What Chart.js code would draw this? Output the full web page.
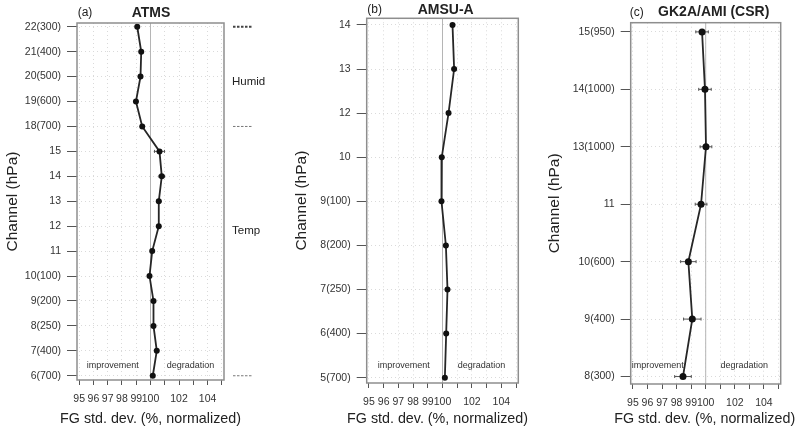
<!DOCTYPE html>
<html>
<head>
<meta charset="utf-8">
<script src="https://cdn.jsdelivr.net/npm/chart.js@4"></script>
<style>
  body { margin: 0; background: #fff; }
  #wrap { position: relative; width: 800px; height: 434px; }
  .panel { position: absolute; top: 0; height: 434px; }
</style>
</head>
<body>
<div id="wrap">
  <div class="panel" style="left:0;width:270px"><canvas id="atmsChart"></canvas></div>
  <div class="panel" style="left:270px;width:270px"><canvas id="amsuChart"></canvas></div>
  <div class="panel" style="left:540px;width:260px"><canvas id="gk2aChart"></canvas></div>
</div>
<script>
// x axis ticks (every 1 %, some labels left out like the original)
const xTicks = [95, 96, 97, 98, 99, 100, 101, 102, 103, 104, 105];
const xTickLabels = ['95', '96', '97', '98', '99', '100', '', '102', '', '104', ''];
const xTitle = 'FG std. dev. (%, normalized)';

// (a) ATMS
const atmsChannels = ['22(300)', '21(400)', '20(500)', '19(600)', '18(700)', '15', '14', '13', '12', '11', '10(100)', '9(200)', '8(250)', '7(400)', '6(700)'];
const atmsValues = [99.07, 99.35, 99.3, 98.98, 99.42, 100.63, 100.79, 100.58, 100.58, 100.12, 99.93, 100.21, 100.21, 100.44, 100.16];
const atmsErr = [0.1, 0.1, 0.1, 0.1, 0.12, 0.35, 0.2, 0.15, 0.1, 0.1, 0.08, 0.08, 0.08, 0.08, 0.08];
const atmsSideLabels = ['Humid', 'Temp'];
const atmsSideLabelRows = [2.2, 8.2];
const atmsSeparatorRows = [0, 4, 14];

// (b) AMSU-A
const amsuChannels = ['14', '13', '12', '10', '9(100)', '8(200)', '7(250)', '6(400)', '5(700)'];
const amsuValues = [100.68, 100.79, 100.41, 99.95, 99.93, 100.23, 100.34, 100.25, 100.16];
const amsuErr = [0.12, 0.12, 0.06, 0.05, 0.05, 0.05, 0.05, 0.05, 0.05];

// (c) GK2A/AMI (CSR)
const gk2aChannels = ['15(950)', '14(1000)', '13(1000)', '11', '10(600)', '9(400)', '8(300)'];
const gk2aValues = [99.75, 99.95, 100.02, 99.68, 98.81, 99.08, 98.44];
const gk2aErr = [0.43, 0.43, 0.4, 0.4, 0.53, 0.6, 0.57];

const FONT = '"Liberation Sans", Arial, sans-serif';

// reference line, error bars, box, titles and notes
const panelDecor = {
  id: 'panelDecor',
  beforeDatasetsDraw(chart, args, opts) {
    const { ctx, chartArea: a, scales: { x, y } } = chart;
    ctx.save();
    ctx.strokeStyle = '#b5b5b5';
    ctx.lineWidth = 1;
    const x100 = x.getPixelForValue(100);
    ctx.beginPath();
    ctx.moveTo(x100, a.top);
    ctx.lineTo(x100, a.bottom);
    ctx.stroke();

    ctx.strokeStyle = '#555';
    ctx.lineWidth = 1;
    opts.values.forEach((v, i) => {
      const e = opts.err[i];
      const py = y.getPixelForValue(i);
      const x0 = x.getPixelForValue(v - e);
      const x1 = x.getPixelForValue(v + e);
      ctx.beginPath();
      ctx.moveTo(x0, py); ctx.lineTo(x1, py);
      ctx.moveTo(x0, py - 1.5); ctx.lineTo(x0, py + 1.5);
      ctx.moveTo(x1, py - 1.5); ctx.lineTo(x1, py + 1.5);
      ctx.stroke();
    });
    ctx.restore();
  },
  afterDraw(chart, args, opts) {
    const { ctx, chartArea: a, scales: { x, y } } = chart;
    ctx.save();
    ctx.strokeStyle = '#8e8e8e';
    ctx.lineWidth = 1.5;
    ctx.strokeRect(a.left, a.top, a.right - a.left, a.bottom - a.top);

    ctx.fillStyle = '#333';
    ctx.textBaseline = 'middle';
    ctx.textAlign = 'center';
    ctx.font = '9px ' + FONT;
    const ty = a.bottom - opts.noteDy;
    ctx.fillText('improvement', x.getPixelForValue(opts.impX), ty);
    ctx.fillText('degradation', x.getPixelForValue(opts.degX), ty);

    // x axis title, wider than the plot box (no squeeze)
    ctx.fillStyle = '#222';
    ctx.font = '14.3px ' + FONT;
    ctx.fillText(xTitle, (a.left + a.right) / 2 + opts.xTitleDx, 419);

    ctx.font = '12px ' + FONT;
    ctx.fillText(opts.tag, a.left + opts.tagDx, opts.titleY);
    ctx.font = 'bold 14px ' + FONT;
    ctx.fillText(opts.title, a.left + opts.titleDx, opts.titleY);

    if (opts.sideLabels) {
      ctx.font = '11.5px ' + FONT;
      ctx.textAlign = 'left';
      opts.sideLabels.forEach((t, i) => {
        ctx.fillText(t, a.right + 8, y.getPixelForValue(opts.sideLabelRows[i]));
      });
      opts.separatorRows.forEach((r, i) => {
        const py = y.getPixelForValue(r);
        ctx.beginPath();
        if (i === 0) {
          ctx.strokeStyle = '#444';
          ctx.lineWidth = 2;
        } else {
          ctx.strokeStyle = '#777';
          ctx.lineWidth = 1;
        }
        ctx.setLineDash([2.5, 1.5]);
        ctx.moveTo(a.right + 9, py);
        ctx.lineTo(a.right + 29, py);
        ctx.stroke();
      });
    }
    ctx.restore();
  }
};

function makePanel(id, channels, values, decor, geom) {
  const ctx = document.getElementById(id).getContext('2d');
  const n = channels.length;
  return new Chart(ctx, {
    type: 'scatter',
    data: {
      datasets: [{
        data: values.map((v, i) => ({ x: v, y: i })),
        showLine: true,
        borderColor: '#262626',
        borderWidth: 1.8,
        pointRadius: geom.pointRadius,
        pointBackgroundColor: '#111',
        pointBorderColor: '#111',
        pointBorderWidth: 0
      }]
    },
    options: {
      responsive: true,
      maintainAspectRatio: false,
      animation: false,
      layout: { padding: { top: geom.top, right: geom.right, left: 0, bottom: 0 } },
      plugins: {
        legend: { display: false },
        tooltip: { enabled: false },
        panelDecor: decor
      },
      scales: {
        x: {
          type: 'linear',
          min: 94.85,
          max: 105.15,
          afterBuildTicks: s => { s.ticks = xTicks.map(v => ({ value: v })); },
          afterFit: s => { s.height = geom.xHeight; },
          grid: { color: '#dadada', tickColor: '#555', tickLength: 5, tickBorderDash: [] },
          border: { display: false, dash: [1, 3] },
          ticks: {
            autoSkip: false, maxRotation: 0, padding: 8,
            color: '#333', font: { family: FONT, size: 10.5 },
            callback: (v, i) => xTickLabels[i]
          },
          title: { display: false }
        },
        y: {
          type: 'linear',
          reverse: true,
          min: -geom.yPadTop,
          max: n - 1 + geom.yPadBottom,
          afterBuildTicks: s => { s.ticks = channels.map((c, i) => ({ value: i })); },
          afterFit: s => { s.width = geom.yWidth; },
          grid: { color: '#dadada', tickColor: '#555', tickLength: 10, tickBorderDash: [] },
          border: { display: false, dash: [1, 3] },
          ticks: {
            autoSkip: false, padding: 6,
            color: '#333', font: { family: FONT, size: 10.5 },
            callback: (v, i) => channels[i]
          },
          title: {
            display: true, text: 'Channel (hPa)',
            color: '#222', font: { family: FONT, size: 15.5 },
            padding: { top: geom.yTitlePad, bottom: 0 }
          }
        }
      }
    },
    plugins: [panelDecor]
  });
}

makePanel('atmsChart', atmsChannels, atmsValues, {
  values: atmsValues, err: atmsErr,
  tag: '(a)', title: 'ATMS', tagDx: 8, titleDx: 74, titleY: 13, xTitleDx: 0,
  impX: 97.35, degX: 102.8, noteDy: 14,
  sideLabels: atmsSideLabels, sideLabelRows: atmsSideLabelRows, separatorRows: atmsSeparatorRows
}, { top: 23, right: 46, xHeight: 54, yWidth: 77, yTitlePad: 3.7, yPadTop: 0.15, yPadBottom: 0.17, pointRadius: 3 });

makePanel('amsuChart', amsuChannels, amsuValues, {
  values: amsuValues, err: amsuErr,
  tag: '(b)', title: 'AMSU-A', tagDx: 8, titleDx: 79, titleY: 10, xTitleDx: -5,
  impX: 97.37, degX: 102.65, noteDy: 17
}, { top: 18.3, right: 21.7, xHeight: 51, yWidth: 96.7, yTitlePad: 22.7, yPadTop: 0.15, yPadBottom: 0.12, pointRadius: 3 });

makePanel('gk2aChart', gk2aChannels, gk2aValues, {
  values: gk2aValues, err: gk2aErr,
  tag: '(c)', title: 'GK2A/AMI (CSR)', tagDx: 6, titleDx: 83, titleY: 12.5, xTitleDx: -1,
  impX: 96.7, degX: 102.64, noteDy: 18
}, { top: 22.7, right: 19.3, xHeight: 50, yWidth: 90.7, yTitlePad: 5.7, yPadTop: 0.16, yPadBottom: 0.13, pointRadius: 3.5 });
</script>
</body>
</html>
